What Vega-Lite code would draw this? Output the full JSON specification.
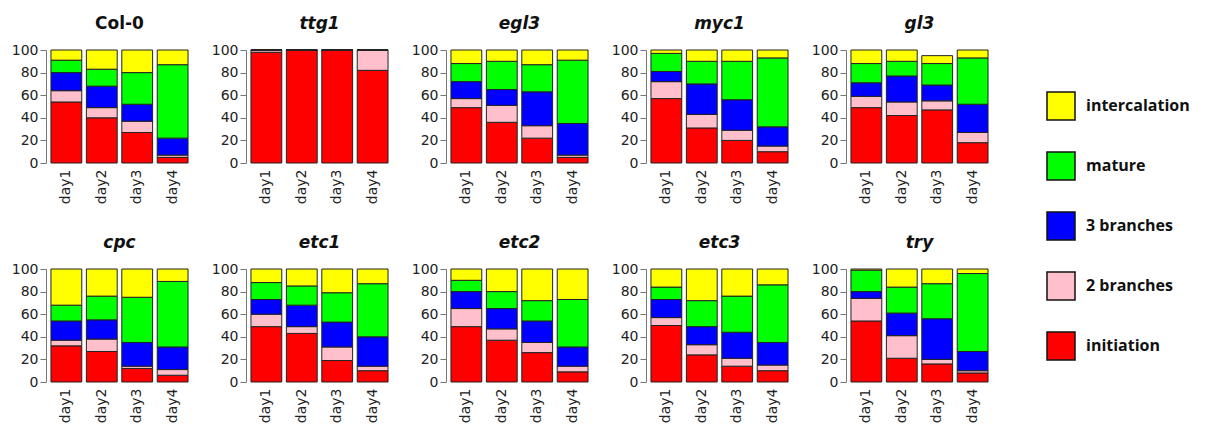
{
  "$schema": "https://vega.github.io/schema/vega-lite/v6.json",
  "background": "white",
  "padding": {"left": 11, "top": 15, "right": 0, "bottom": 0},
  "data": {"values": [
    {"gene":"Col-0","day":"day1","initiation":54,"2 branches":10,"3 branches":16,"mature":11,"intercalation":9},
    {"gene":"Col-0","day":"day2","initiation":40,"2 branches":9,"3 branches":19,"mature":15,"intercalation":17},
    {"gene":"Col-0","day":"day3","initiation":27,"2 branches":10,"3 branches":15,"mature":28,"intercalation":20},
    {"gene":"Col-0","day":"day4","initiation":5,"2 branches":2,"3 branches":15,"mature":65,"intercalation":13},
    {"gene":"ttg1","day":"day1","initiation":98,"2 branches":2,"3 branches":0,"mature":0,"intercalation":0},
    {"gene":"ttg1","day":"day2","initiation":100,"2 branches":0,"3 branches":0,"mature":0,"intercalation":0},
    {"gene":"ttg1","day":"day3","initiation":100,"2 branches":0,"3 branches":0,"mature":0,"intercalation":0},
    {"gene":"ttg1","day":"day4","initiation":82,"2 branches":18,"3 branches":0,"mature":0,"intercalation":0},
    {"gene":"egl3","day":"day1","initiation":49,"2 branches":8,"3 branches":15,"mature":16,"intercalation":12},
    {"gene":"egl3","day":"day2","initiation":36,"2 branches":15,"3 branches":14,"mature":25,"intercalation":10},
    {"gene":"egl3","day":"day3","initiation":22,"2 branches":11,"3 branches":30,"mature":24,"intercalation":13},
    {"gene":"egl3","day":"day4","initiation":5,"2 branches":2,"3 branches":28,"mature":56,"intercalation":9},
    {"gene":"myc1","day":"day1","initiation":57,"2 branches":15,"3 branches":9,"mature":16,"intercalation":3},
    {"gene":"myc1","day":"day2","initiation":31,"2 branches":12,"3 branches":27,"mature":20,"intercalation":10},
    {"gene":"myc1","day":"day3","initiation":20,"2 branches":9,"3 branches":27,"mature":34,"intercalation":10},
    {"gene":"myc1","day":"day4","initiation":10,"2 branches":5,"3 branches":17,"mature":61,"intercalation":7},
    {"gene":"gl3","day":"day1","initiation":49,"2 branches":10,"3 branches":12,"mature":17,"intercalation":12},
    {"gene":"gl3","day":"day2","initiation":42,"2 branches":12,"3 branches":23,"mature":13,"intercalation":10},
    {"gene":"gl3","day":"day3","initiation":47,"2 branches":8,"3 branches":14,"mature":19,"intercalation":7},
    {"gene":"gl3","day":"day4","initiation":18,"2 branches":9,"3 branches":25,"mature":41,"intercalation":7},
    {"gene":"cpc","day":"day1","initiation":32,"2 branches":5,"3 branches":17,"mature":14,"intercalation":32},
    {"gene":"cpc","day":"day2","initiation":27,"2 branches":11,"3 branches":17,"mature":21,"intercalation":24},
    {"gene":"cpc","day":"day3","initiation":12,"2 branches":2,"3 branches":21,"mature":40,"intercalation":25},
    {"gene":"cpc","day":"day4","initiation":6,"2 branches":5,"3 branches":20,"mature":58,"intercalation":11},
    {"gene":"etc1","day":"day1","initiation":49,"2 branches":11,"3 branches":13,"mature":15,"intercalation":12},
    {"gene":"etc1","day":"day2","initiation":43,"2 branches":6,"3 branches":19,"mature":17,"intercalation":15},
    {"gene":"etc1","day":"day3","initiation":19,"2 branches":12,"3 branches":22,"mature":26,"intercalation":21},
    {"gene":"etc1","day":"day4","initiation":10,"2 branches":4,"3 branches":26,"mature":47,"intercalation":13},
    {"gene":"etc2","day":"day1","initiation":49,"2 branches":16,"3 branches":15,"mature":10,"intercalation":10},
    {"gene":"etc2","day":"day2","initiation":37,"2 branches":10,"3 branches":18,"mature":15,"intercalation":20},
    {"gene":"etc2","day":"day3","initiation":26,"2 branches":9,"3 branches":19,"mature":18,"intercalation":28},
    {"gene":"etc2","day":"day4","initiation":9,"2 branches":5,"3 branches":17,"mature":42,"intercalation":27},
    {"gene":"etc3","day":"day1","initiation":50,"2 branches":7,"3 branches":16,"mature":11,"intercalation":16},
    {"gene":"etc3","day":"day2","initiation":24,"2 branches":9,"3 branches":16,"mature":23,"intercalation":28},
    {"gene":"etc3","day":"day3","initiation":14,"2 branches":7,"3 branches":23,"mature":32,"intercalation":24},
    {"gene":"etc3","day":"day4","initiation":10,"2 branches":5,"3 branches":20,"mature":51,"intercalation":14},
    {"gene":"try","day":"day1","initiation":54,"2 branches":20,"3 branches":6,"mature":19,"intercalation":1},
    {"gene":"try","day":"day2","initiation":21,"2 branches":20,"3 branches":20,"mature":23,"intercalation":16},
    {"gene":"try","day":"day3","initiation":16,"2 branches":4,"3 branches":36,"mature":31,"intercalation":13},
    {"gene":"try","day":"day4","initiation":8,"2 branches":2,"3 branches":17,"mature":69,"intercalation":4}
  ]},
  "transform": [
    {"fold": ["initiation","2 branches","3 branches","mature","intercalation"], "as": ["stage","pct"]},
    {"calculate": "indexof(['initiation','2 branches','3 branches','mature','intercalation'], datum.stage)", "as": "ord"}
  ],
  "columns": 5,
  "spacing": {"row": 30, "column": 18},
  "concat": [
    {"title": {"text": "Col-0", "fontStyle": "normal"}, "transform": [{"filter": "datum.gene === 'Col-0'"}], "width": 147, "height": 113, "mark": {"type": "bar", "stroke": "#222", "strokeWidth": 1},
     "encoding": {"x": {"field": "day", "type": "nominal", "axis": {"title": null, "labelAngle": -90, "ticks": false, "domain": false, "labelPadding": 6}, "scale": {"paddingInner": 0.13, "paddingOuter": 0.14}},
       "y": {"field": "pct", "type": "quantitative", "stack": "zero", "scale": {"domain": [0, 100]}, "axis": {"title": null, "values": [0,20,40,60,80,100], "grid": false}},
       "color": {"field": "stage", "type": "nominal", "scale": {"domain": ["intercalation","mature","3 branches","2 branches","initiation"], "range": ["#FFFF00","#00FF00","#0000FF","#FFC0CB","#FF0000"]}, "legend": {"title": null}},
       "order": {"field": "ord", "type": "quantitative"}}},
    {"title": {"text": "ttg1", "fontStyle": "italic"}, "transform": [{"filter": "datum.gene === 'ttg1'"}], "width": 147, "height": 113, "mark": {"type": "bar", "stroke": "#222", "strokeWidth": 1},
     "encoding": {"x": {"field": "day", "type": "nominal", "axis": {"title": null, "labelAngle": -90, "ticks": false, "domain": false, "labelPadding": 6}, "scale": {"paddingInner": 0.13, "paddingOuter": 0.14}},
       "y": {"field": "pct", "type": "quantitative", "stack": "zero", "scale": {"domain": [0, 100]}, "axis": {"title": null, "values": [0,20,40,60,80,100], "grid": false}},
       "color": {"field": "stage", "type": "nominal", "scale": {"domain": ["intercalation","mature","3 branches","2 branches","initiation"], "range": ["#FFFF00","#00FF00","#0000FF","#FFC0CB","#FF0000"]}, "legend": {"title": null}},
       "order": {"field": "ord", "type": "quantitative"}}},
    {"title": {"text": "egl3", "fontStyle": "italic"}, "transform": [{"filter": "datum.gene === 'egl3'"}], "width": 147, "height": 113, "mark": {"type": "bar", "stroke": "#222", "strokeWidth": 1},
     "encoding": {"x": {"field": "day", "type": "nominal", "axis": {"title": null, "labelAngle": -90, "ticks": false, "domain": false, "labelPadding": 6}, "scale": {"paddingInner": 0.13, "paddingOuter": 0.14}},
       "y": {"field": "pct", "type": "quantitative", "stack": "zero", "scale": {"domain": [0, 100]}, "axis": {"title": null, "values": [0,20,40,60,80,100], "grid": false}},
       "color": {"field": "stage", "type": "nominal", "scale": {"domain": ["intercalation","mature","3 branches","2 branches","initiation"], "range": ["#FFFF00","#00FF00","#0000FF","#FFC0CB","#FF0000"]}, "legend": {"title": null}},
       "order": {"field": "ord", "type": "quantitative"}}},
    {"title": {"text": "myc1", "fontStyle": "italic"}, "transform": [{"filter": "datum.gene === 'myc1'"}], "width": 147, "height": 113, "mark": {"type": "bar", "stroke": "#222", "strokeWidth": 1},
     "encoding": {"x": {"field": "day", "type": "nominal", "axis": {"title": null, "labelAngle": -90, "ticks": false, "domain": false, "labelPadding": 6}, "scale": {"paddingInner": 0.13, "paddingOuter": 0.14}},
       "y": {"field": "pct", "type": "quantitative", "stack": "zero", "scale": {"domain": [0, 100]}, "axis": {"title": null, "values": [0,20,40,60,80,100], "grid": false}},
       "color": {"field": "stage", "type": "nominal", "scale": {"domain": ["intercalation","mature","3 branches","2 branches","initiation"], "range": ["#FFFF00","#00FF00","#0000FF","#FFC0CB","#FF0000"]}, "legend": {"title": null}},
       "order": {"field": "ord", "type": "quantitative"}}},
    {"title": {"text": "gl3", "fontStyle": "italic"}, "transform": [{"filter": "datum.gene === 'gl3'"}], "width": 147, "height": 113, "mark": {"type": "bar", "stroke": "#222", "strokeWidth": 1},
     "encoding": {"x": {"field": "day", "type": "nominal", "axis": {"title": null, "labelAngle": -90, "ticks": false, "domain": false, "labelPadding": 6}, "scale": {"paddingInner": 0.13, "paddingOuter": 0.14}},
       "y": {"field": "pct", "type": "quantitative", "stack": "zero", "scale": {"domain": [0, 100]}, "axis": {"title": null, "values": [0,20,40,60,80,100], "grid": false}},
       "color": {"field": "stage", "type": "nominal", "scale": {"domain": ["intercalation","mature","3 branches","2 branches","initiation"], "range": ["#FFFF00","#00FF00","#0000FF","#FFC0CB","#FF0000"]}, "legend": {"title": null}},
       "order": {"field": "ord", "type": "quantitative"}}},
    {"title": {"text": "cpc", "fontStyle": "italic"}, "transform": [{"filter": "datum.gene === 'cpc'"}], "width": 147, "height": 113, "mark": {"type": "bar", "stroke": "#222", "strokeWidth": 1},
     "encoding": {"x": {"field": "day", "type": "nominal", "axis": {"title": null, "labelAngle": -90, "ticks": false, "domain": false, "labelPadding": 6}, "scale": {"paddingInner": 0.13, "paddingOuter": 0.14}},
       "y": {"field": "pct", "type": "quantitative", "stack": "zero", "scale": {"domain": [0, 100]}, "axis": {"title": null, "values": [0,20,40,60,80,100], "grid": false}},
       "color": {"field": "stage", "type": "nominal", "scale": {"domain": ["intercalation","mature","3 branches","2 branches","initiation"], "range": ["#FFFF00","#00FF00","#0000FF","#FFC0CB","#FF0000"]}, "legend": {"title": null}},
       "order": {"field": "ord", "type": "quantitative"}}},
    {"title": {"text": "etc1", "fontStyle": "italic"}, "transform": [{"filter": "datum.gene === 'etc1'"}], "width": 147, "height": 113, "mark": {"type": "bar", "stroke": "#222", "strokeWidth": 1},
     "encoding": {"x": {"field": "day", "type": "nominal", "axis": {"title": null, "labelAngle": -90, "ticks": false, "domain": false, "labelPadding": 6}, "scale": {"paddingInner": 0.13, "paddingOuter": 0.14}},
       "y": {"field": "pct", "type": "quantitative", "stack": "zero", "scale": {"domain": [0, 100]}, "axis": {"title": null, "values": [0,20,40,60,80,100], "grid": false}},
       "color": {"field": "stage", "type": "nominal", "scale": {"domain": ["intercalation","mature","3 branches","2 branches","initiation"], "range": ["#FFFF00","#00FF00","#0000FF","#FFC0CB","#FF0000"]}, "legend": {"title": null}},
       "order": {"field": "ord", "type": "quantitative"}}},
    {"title": {"text": "etc2", "fontStyle": "italic"}, "transform": [{"filter": "datum.gene === 'etc2'"}], "width": 147, "height": 113, "mark": {"type": "bar", "stroke": "#222", "strokeWidth": 1},
     "encoding": {"x": {"field": "day", "type": "nominal", "axis": {"title": null, "labelAngle": -90, "ticks": false, "domain": false, "labelPadding": 6}, "scale": {"paddingInner": 0.13, "paddingOuter": 0.14}},
       "y": {"field": "pct", "type": "quantitative", "stack": "zero", "scale": {"domain": [0, 100]}, "axis": {"title": null, "values": [0,20,40,60,80,100], "grid": false}},
       "color": {"field": "stage", "type": "nominal", "scale": {"domain": ["intercalation","mature","3 branches","2 branches","initiation"], "range": ["#FFFF00","#00FF00","#0000FF","#FFC0CB","#FF0000"]}, "legend": {"title": null}},
       "order": {"field": "ord", "type": "quantitative"}}},
    {"title": {"text": "etc3", "fontStyle": "italic"}, "transform": [{"filter": "datum.gene === 'etc3'"}], "width": 147, "height": 113, "mark": {"type": "bar", "stroke": "#222", "strokeWidth": 1},
     "encoding": {"x": {"field": "day", "type": "nominal", "axis": {"title": null, "labelAngle": -90, "ticks": false, "domain": false, "labelPadding": 6}, "scale": {"paddingInner": 0.13, "paddingOuter": 0.14}},
       "y": {"field": "pct", "type": "quantitative", "stack": "zero", "scale": {"domain": [0, 100]}, "axis": {"title": null, "values": [0,20,40,60,80,100], "grid": false}},
       "color": {"field": "stage", "type": "nominal", "scale": {"domain": ["intercalation","mature","3 branches","2 branches","initiation"], "range": ["#FFFF00","#00FF00","#0000FF","#FFC0CB","#FF0000"]}, "legend": {"title": null}},
       "order": {"field": "ord", "type": "quantitative"}}},
    {"title": {"text": "try", "fontStyle": "italic"}, "transform": [{"filter": "datum.gene === 'try'"}], "width": 147, "height": 113, "mark": {"type": "bar", "stroke": "#222", "strokeWidth": 1},
     "encoding": {"x": {"field": "day", "type": "nominal", "axis": {"title": null, "labelAngle": -90, "ticks": false, "domain": false, "labelPadding": 6}, "scale": {"paddingInner": 0.13, "paddingOuter": 0.14}},
       "y": {"field": "pct", "type": "quantitative", "stack": "zero", "scale": {"domain": [0, 100]}, "axis": {"title": null, "values": [0,20,40,60,80,100], "grid": false}},
       "color": {"field": "stage", "type": "nominal", "scale": {"domain": ["intercalation","mature","3 branches","2 branches","initiation"], "range": ["#FFFF00","#00FF00","#0000FF","#FFC0CB","#FF0000"]}, "legend": {"title": null}},
       "order": {"field": "ord", "type": "quantitative"}}}
  ],
  "config": {
    "view": {"stroke": null},
    "axis": {"labelFont": "DejaVu Sans", "labelFontSize": 14, "labelColor": "#222", "domainColor": "#777", "tickColor": "#777", "tickSize": 6},
    "title": {"font": "DejaVu Sans", "fontSize": 17, "fontWeight": "bold", "color": "#111", "offset": 10},
    "legend": {"orient": "none", "legendX": 1000, "legendY": 41, "symbolType": "square", "symbolSize": 784, "symbolStrokeColor": "#111", "symbolStrokeWidth": 1.5, "symbolOpacity": 1, "labelFont": "Open Sans", "labelFontSize": 16, "labelFontWeight": "bold", "labelColor": "#111", "labelOffset": 10, "rowPadding": 26, "labelLimit": 300}
  }
}
